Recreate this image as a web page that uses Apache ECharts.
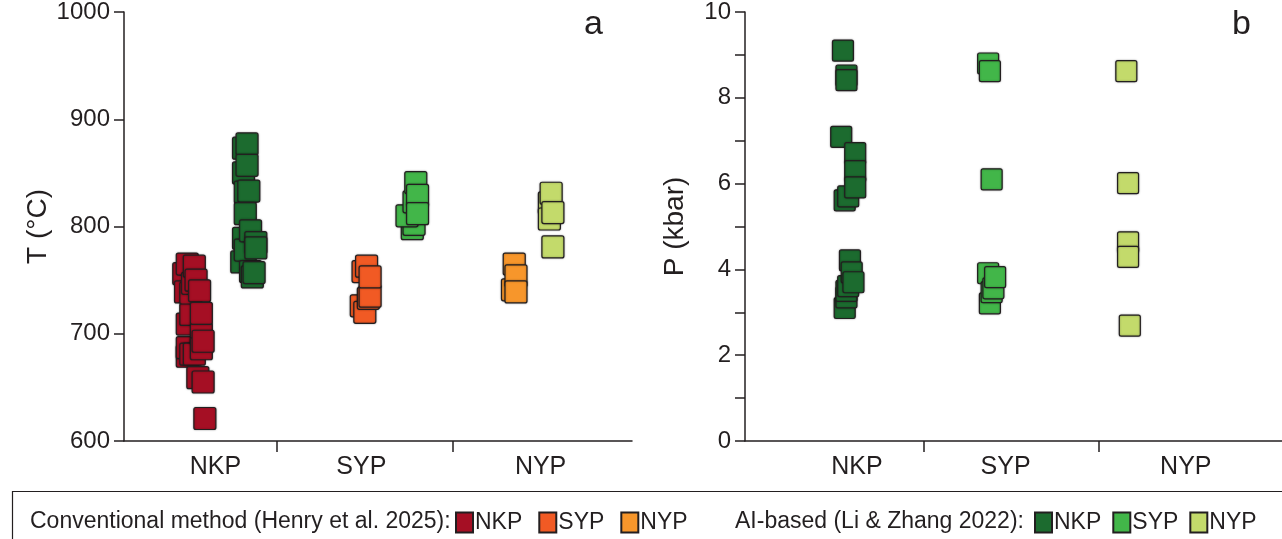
<!DOCTYPE html>
<html>
<head>
<meta charset="utf-8">
<title>T and P by province</title>
<script src="https://cdn.jsdelivr.net/npm/echarts@6/dist/echarts.min.js"></script>
<style>
  html, body { margin: 0; padding: 0; background: #fff; }
  #chart { width: 1282px; height: 539px; }
</style>
</head>
<body>
<div id="chart"></div>
<script>
// categories along x (each one unit wide, separators at 1 and 2)
const categories = ['NKP', 'SYP', 'NYP']

// panel a: temperature (°C), [x position within category units, T]
const convNKP_T = [[0.47, 756], [0.48, 739], [0.49, 765], [0.49, 679], [0.49, 687], [0.49, 709], [0.51, 681], [0.51, 718], [0.51, 738], [0.52, 747],
  [0.53, 763], [0.53, 681], [0.54, 750], [0.55, 659], [0.56, 740], [0.57, 700], [0.57, 686], [0.57, 719], [0.58, 693], [0.58, 655], [0.59, 621]]
const convSYP_T = [[1.48, 726], [1.49, 758], [1.50, 720], [1.51, 763], [1.52, 733], [1.53, 735], [1.53, 753]]
const convNYP_T = [[2.34, 741], [2.35, 765], [2.36, 754], [2.36, 739]]
const aiNKP_T = [[0.81, 873], [0.83, 877], [0.81, 850], [0.83, 857], [0.82, 832], [0.84, 833], [0.82, 812], [0.81, 789], [0.80, 767],
  [0.82, 778], [0.85, 796], [0.85, 758], [0.86, 753], [0.87, 757], [0.88, 785], [0.88, 780]]
const aiSYP_T = [[1.77, 798], [1.78, 802], [1.74, 810], [1.78, 823], [1.79, 841], [1.80, 829], [1.80, 812]]
const aiNYP_T = [[2.55, 822], [2.56, 831], [2.55, 807], [2.57, 813], [2.57, 781]]

// panel b: pressure (kbar)
const aiNKP_P = [[0.54, 9.10], [0.56, 8.52], [0.56, 8.41], [0.53, 7.09], [0.55, 5.61], [0.57, 5.70], [0.61, 6.71], [0.61, 6.29], [0.61, 5.91],
  [0.55, 3.10], [0.56, 3.35], [0.56, 3.50], [0.57, 3.61], [0.58, 4.21], [0.59, 3.93], [0.60, 3.70]]
const aiSYP_P = [[1.37, 8.80], [1.38, 8.62], [1.39, 6.10], [1.37, 3.91], [1.38, 3.21], [1.39, 3.47], [1.40, 3.56], [1.41, 3.82]]
const aiNYP_P = [[2.16, 8.62], [2.17, 6.01], [2.17, 4.63], [2.17, 4.29], [2.18, 2.69]]

const ink = '#231F20'
const colors = {
  convNKP: '#A50F24',
  convSYP: '#F15A24',
  convNYP: '#F7962B',
  aiNKP: '#1C6B2F',
  aiSYP: '#42B649',
  aiNYP: '#C3DA6B',
}
const font = 'Liberation Sans, Arial, sans-serif'
// square with only slightly rounded corners
const squareSymbol = 'path://M2,0H20Q22,0 22,2V20Q22,22 20,22H2Q0,22 0,20V2Q0,0 2,0Z'

function xAxisFor(gridIndex, min, max, labelAt) {
  return {
    type: 'value', gridIndex, min, max,
    splitLine: {show: false},
    axisLine: {onZero: false, lineStyle: {color: ink, width: 1.5}},
    axisTick: {show: true, length: 11, customValues: [1, 2], lineStyle: {color: ink, width: 1.5}},
    axisLabel: {
      customValues: labelAt, margin: 14,
      color: ink, fontSize: 25, fontFamily: font,
      formatter: (v) => categories[Math.floor(v)],
    },
  }
}

function yAxisFor(gridIndex, min, max, interval, name, nameGap, formatter) {
  return {
    type: 'value', gridIndex, min, max, interval,
    name, nameLocation: 'middle', nameGap,
    nameTextStyle: {color: ink, fontSize: 28, fontFamily: font},
    splitLine: {show: false},
    axisLine: {show: true, onZero: false, lineStyle: {color: ink, width: 1.5}},
    axisTick: {show: true, length: 10, lineStyle: {color: ink, width: 1.5}},
    axisLabel: {margin: 14, color: ink, fontSize: 24, fontFamily: font, formatter},
  }
}

function scatter(name, color, data, axisIndex, size) {
  return {
    name, type: 'scatter', data,
    xAxisIndex: axisIndex, yAxisIndex: axisIndex,
    symbol: squareSymbol, symbolSize: size,
    itemStyle: {color, opacity: 1, borderColor: ink, borderWidth: 1.2, shadowColor: 'rgba(0,0,0,0.35)', shadowBlur: 2},
    emphasis: {disabled: true},
  }
}

const legendCommon = {
  top: 506, itemWidth: 17, itemHeight: 20, icon: 'rect',
  formatter: (n) => n.split(' ')[1],
  textStyle: {color: ink, fontSize: 23, fontFamily: font, padding: [0, 0, 0, -3]},
  selectedMode: false,
}

const chart = echarts.init(document.getElementById('chart'))
chart.setOption({
  animation: false,
  grid: [
    {left: 124, top: 12, width: 508, height: 429, containLabel: false, outerBoundsMode: 'none'},
    {left: 745, top: 12, width: 537, height: 429, containLabel: false, outerBoundsMode: 'none'},
  ],
  xAxis: [
    xAxisFor(0, 0.13, 3.02, [0.65, 1.48, 2.5]),
    xAxisFor(1, -0.02, 3.05, [0.62, 1.47, 2.5]),
  ],
  yAxis: [
    yAxisFor(0, 600, 1000, 100, 'T (°C)', 72, (v) => String(v)),
    yAxisFor(1, 0, 10, 1, 'P (kbar)', 56, (v) => (v % 2 === 0 ? String(v) : '')),
  ],
  legend: [
    Object.assign({data: ['Conventional NKP', 'Conventional SYP', 'Conventional NYP'], left: 450, itemGap: 16}, legendCommon),
    Object.assign({data: ['AI NKP', 'AI SYP', 'AI NYP'], left: 1029, itemGap: 11}, legendCommon),
  ],
  graphic: [
    {type: 'rect', shape: {x: 12.5, y: 491.5, width: 1300, height: 80}, style: {fill: 'none', stroke: ink, lineWidth: 1.2}, silent: true},
    {type: 'text', left: 30, top: 510, style: {text: 'Conventional method (Henry et al. 2025):', fill: ink, fontSize: 23, fontFamily: font}},
    {type: 'text', left: 735, top: 510, style: {text: 'AI-based (Li & Zhang 2022):', fill: ink, fontSize: 23, fontFamily: font}},
    {type: 'text', left: 584, top: 8, style: {text: 'a', fill: ink, fontSize: 34, fontFamily: font}},
    {type: 'text', left: 1232, top: 8, style: {text: 'b', fill: ink, fontSize: 34, fontFamily: font}},
  ],
  series: [
    scatter('Conventional NKP', colors.convNKP, convNKP_T, 0, 22),
    scatter('AI NKP', colors.aiNKP, aiNKP_T, 0, 22),
    scatter('Conventional SYP', colors.convSYP, convSYP_T, 0, 22),
    scatter('AI SYP', colors.aiSYP, aiSYP_T, 0, 22),
    scatter('Conventional NYP', colors.convNYP, convNYP_T, 0, 22),
    scatter('AI NYP', colors.aiNYP, aiNYP_T, 0, 22),
    scatter('AI NKP', colors.aiNKP, aiNKP_P, 1, 21),
    scatter('AI SYP', colors.aiSYP, aiSYP_P, 1, 21),
    scatter('AI NYP', colors.aiNYP, aiNYP_P, 1, 21),
  ],
})
window.addEventListener('resize', () => chart.resize())
</script>
</body>
</html>
